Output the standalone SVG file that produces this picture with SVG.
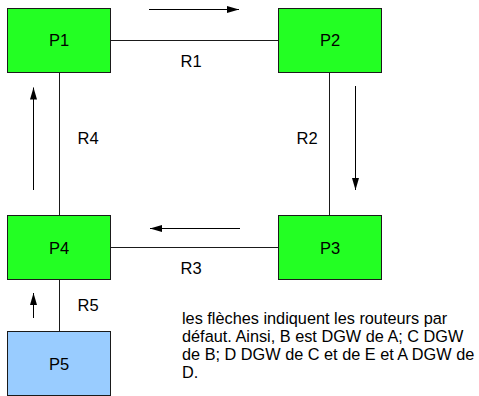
<svg xmlns="http://www.w3.org/2000/svg" width="479" height="396" viewBox="0 0 479 396">
<style>
.box{stroke:#1a1a1a;stroke-width:1}
.g{fill:#23ff23}
.b{fill:#99ccff}
.lbl{font-family:"Liberation Sans",Arial,sans-serif;font-size:16.5px;fill:#000;text-anchor:middle}
.rl{font-family:"Liberation Sans",Arial,sans-serif;font-size:16.5px;fill:#000}
.note{font-family:"Liberation Sans",Arial,sans-serif;font-size:16.3px;fill:#000}
.link{stroke:#1a1a1a;stroke-width:1;fill:none}
.arr{stroke:#000;stroke-width:1;fill:none;marker-end:url(#ah)}
</style>
<defs>
<marker id="ah" markerUnits="userSpaceOnUse" markerWidth="13" markerHeight="8" refX="12" refY="3.5" orient="auto">
<path d="M0,0 L12,3.5 L0,7 z" fill="#000"/>
</marker>
</defs>
<g id="connectors">
<line class="link" x1="110.5" y1="40.5" x2="278" y2="40.5"/>
<line class="link" x1="59.5" y1="72" x2="59.5" y2="215"/>
<line class="link" x1="329.5" y1="72" x2="329.5" y2="215"/>
<line class="link" x1="110.5" y1="247.5" x2="278" y2="247.5"/>
<line class="link" x1="59.5" y1="279" x2="59.5" y2="331"/>
<line class="arr" x1="149" y1="9.5" x2="239" y2="9.5"/>
<line class="arr" x1="355.5" y1="86" x2="355.5" y2="190"/>
<line class="arr" x1="240" y1="228.5" x2="150" y2="228.5"/>
<line class="arr" x1="33.5" y1="190" x2="33.5" y2="87.5"/>
<line class="arr" x1="33.5" y1="318" x2="33.5" y2="293"/>
<text class="rl" x="180.5" y="67">R1</text>
<text class="rl" x="296.5" y="143.5">R2</text>
<text class="rl" x="180.5" y="273.5">R3</text>
<text class="rl" x="77.5" y="143.5">R4</text>
<text class="rl" x="77.5" y="311">R5</text>
</g>
<g id="P1"><rect class="box g" x="7.5" y="8.5" width="103" height="64"/><text class="lbl" x="59" y="46">P1</text></g>
<g id="P2"><rect class="box g" x="278.5" y="8.5" width="103" height="64"/><text class="lbl" x="330" y="46">P2</text></g>
<g id="P3"><rect class="box g" x="278.5" y="215.5" width="103" height="64"/><text class="lbl" x="330" y="253.5">P3</text></g>
<g id="P4"><rect class="box g" x="7.5" y="215.5" width="103" height="64"/><text class="lbl" x="59" y="253.5">P4</text></g>
<g id="P5"><rect class="box b" x="7.5" y="331.5" width="103" height="64"/><text class="lbl" x="59" y="369.5">P5</text></g>
<g id="note">
<text class="note" x="182" y="323.5">les flèches indiquent les routeurs par</text>
<text class="note" x="182" y="341.8">défaut. Ainsi, B est DGW de A; C DGW</text>
<text class="note" x="182" y="360">de B; D DGW de C et de E et A DGW de</text>
<text class="note" x="182" y="378.3">D.</text>
</g>
</svg>
